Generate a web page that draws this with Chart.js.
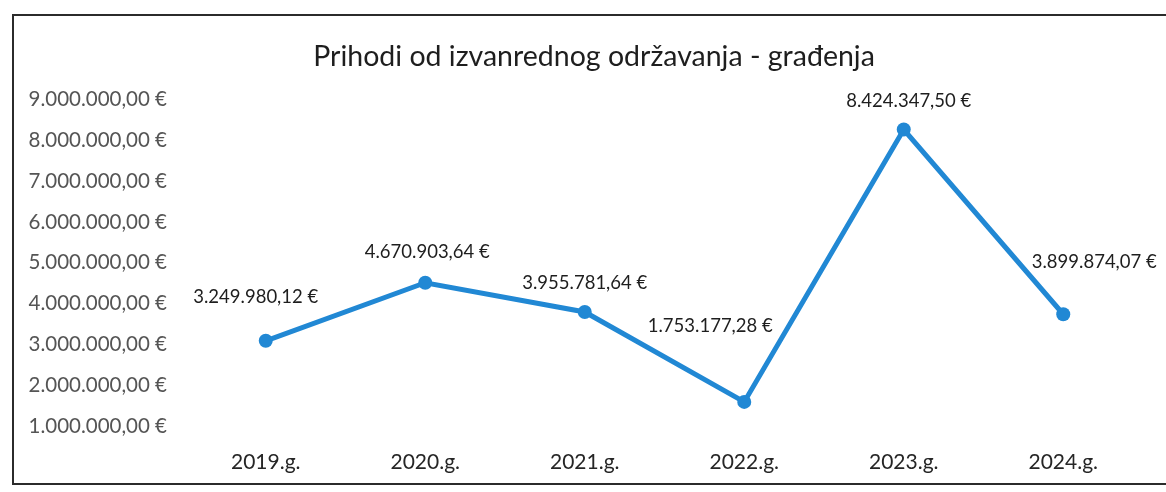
<!DOCTYPE html>
<html>
<head>
<meta charset="utf-8">
<script src="https://cdn.jsdelivr.net/npm/chart.js@4"></script>
<style>
  html, body { margin: 0; padding: 0; background: #fff; }
  body { width: 1166px; height: 492px; position: relative; overflow: hidden; }
  .frame { position: absolute; left: 12px; top: 14px; width: 1180px; height: 471px; border: 2px solid #2b2b2b; box-sizing: border-box; }
  #chart { position: absolute; left: 0; top: 0; }
</style>
</head>
<body>
<div class="frame"></div>
<canvas id="chart" width="1166" height="492"></canvas>
<script>
const title = 'Prihodi od izvanrednog održavanja - građenja';
const years = ['2019.g.', '2020.g.', '2021.g.', '2022.g.', '2023.g.', '2024.g.'];
const prihodi = [3249980.12, 4670903.64, 3955781.64, 1753177.28, 8424347.50, 3899874.07];
const yTicks = [0, 1000000, 2000000, 3000000, 4000000, 5000000, 6000000, 7000000, 8000000, 9000000];

// label offsets relative to the point (dx, dy) - as in the excel chart
const labelOffsets = [[-10, -44], [2, -31], [0, -29], [-34, -76], [5, -28], [31, -52]];

const blue = '#2188d4';

// 1234567.8 -> "1.234.567,80 €"
function euro(v) {
    const parts = v.toFixed(2).split('.');
    const int = parts[0].replace(/\B(?=(\d{3})+(?!\d))/g, '.');
    return int + ',' + parts[1] + ' €';
}

// title + value labels (title is a bit off-center in the original)
const extras = {
    id: 'extras',
    afterDatasetsDraw(chart) {
        const ctx = chart.ctx;
        const meta = chart.getDatasetMeta(0);
        ctx.save();
        ctx.textAlign = 'center';
        ctx.textBaseline = 'middle';
        ctx.fillStyle = '#1e1e1e';
        ctx.font = '28.5px Lato';
        ctx.fillText(title, 594, 57);

        ctx.font = '18.5px Lato';
        meta.data.forEach((pt, i) => {
            const off = labelOffsets[i];
            ctx.fillText(euro(prihodi[i]), pt.x + off[0], pt.y + off[1]);
        });
        ctx.restore();
    }
};

const chart = document.querySelector('#chart').getContext('2d');

new Chart(chart, {
    type: 'line',
    data: {
        labels: years,
        datasets: [{
            label: 'Prihodi',
            data: prihodi,
            borderColor: blue,
            backgroundColor: blue,
            borderWidth: 5,
            pointRadius: 7,
            pointBorderWidth: 0,
            pointBackgroundColor: blue,
            tension: 0
        }]
    },
    options: {
        responsive: false,
        animation: false,
        layout: { padding: { top: 106, right: 23, bottom: 0, left: 0 } },
        plugins: {
            legend: { display: false },
            tooltip: { enabled: false },
            title: { display: false }
        },
        scales: {
            x: {
                offset: true,
                grid: { display: false, drawTicks: false },
                border: { display: false },
                ticks: {
                    color: '#262626',
                    font: { family: 'Lato', size: 21 },
                    mirror: true,
                    padding: -1
                },
                afterFit(scale) { scale.height = 18.5; }
            },
            y: {
                min: 0,
                max: 9000000,
                grid: { display: false, drawTicks: false },
                border: { display: false },
                afterBuildTicks(scale) { scale.ticks = yTicks.map(v => ({ value: v })); },
                ticks: {
                    color: '#555',
                    font: { family: 'Lato', size: 20.5 },
                    padding: 19,
                    labelOffset: -6.5,
                    callback: v => v === 0 ? '' : euro(v)
                },
                afterFit(scale) {
                    scale.width = 186;
                    scale.paddingTop = 0;
                    scale.paddingBottom = 0;
                }
            }
        }
    },
    plugins: [extras]
});
</script>
</body>
</html>
